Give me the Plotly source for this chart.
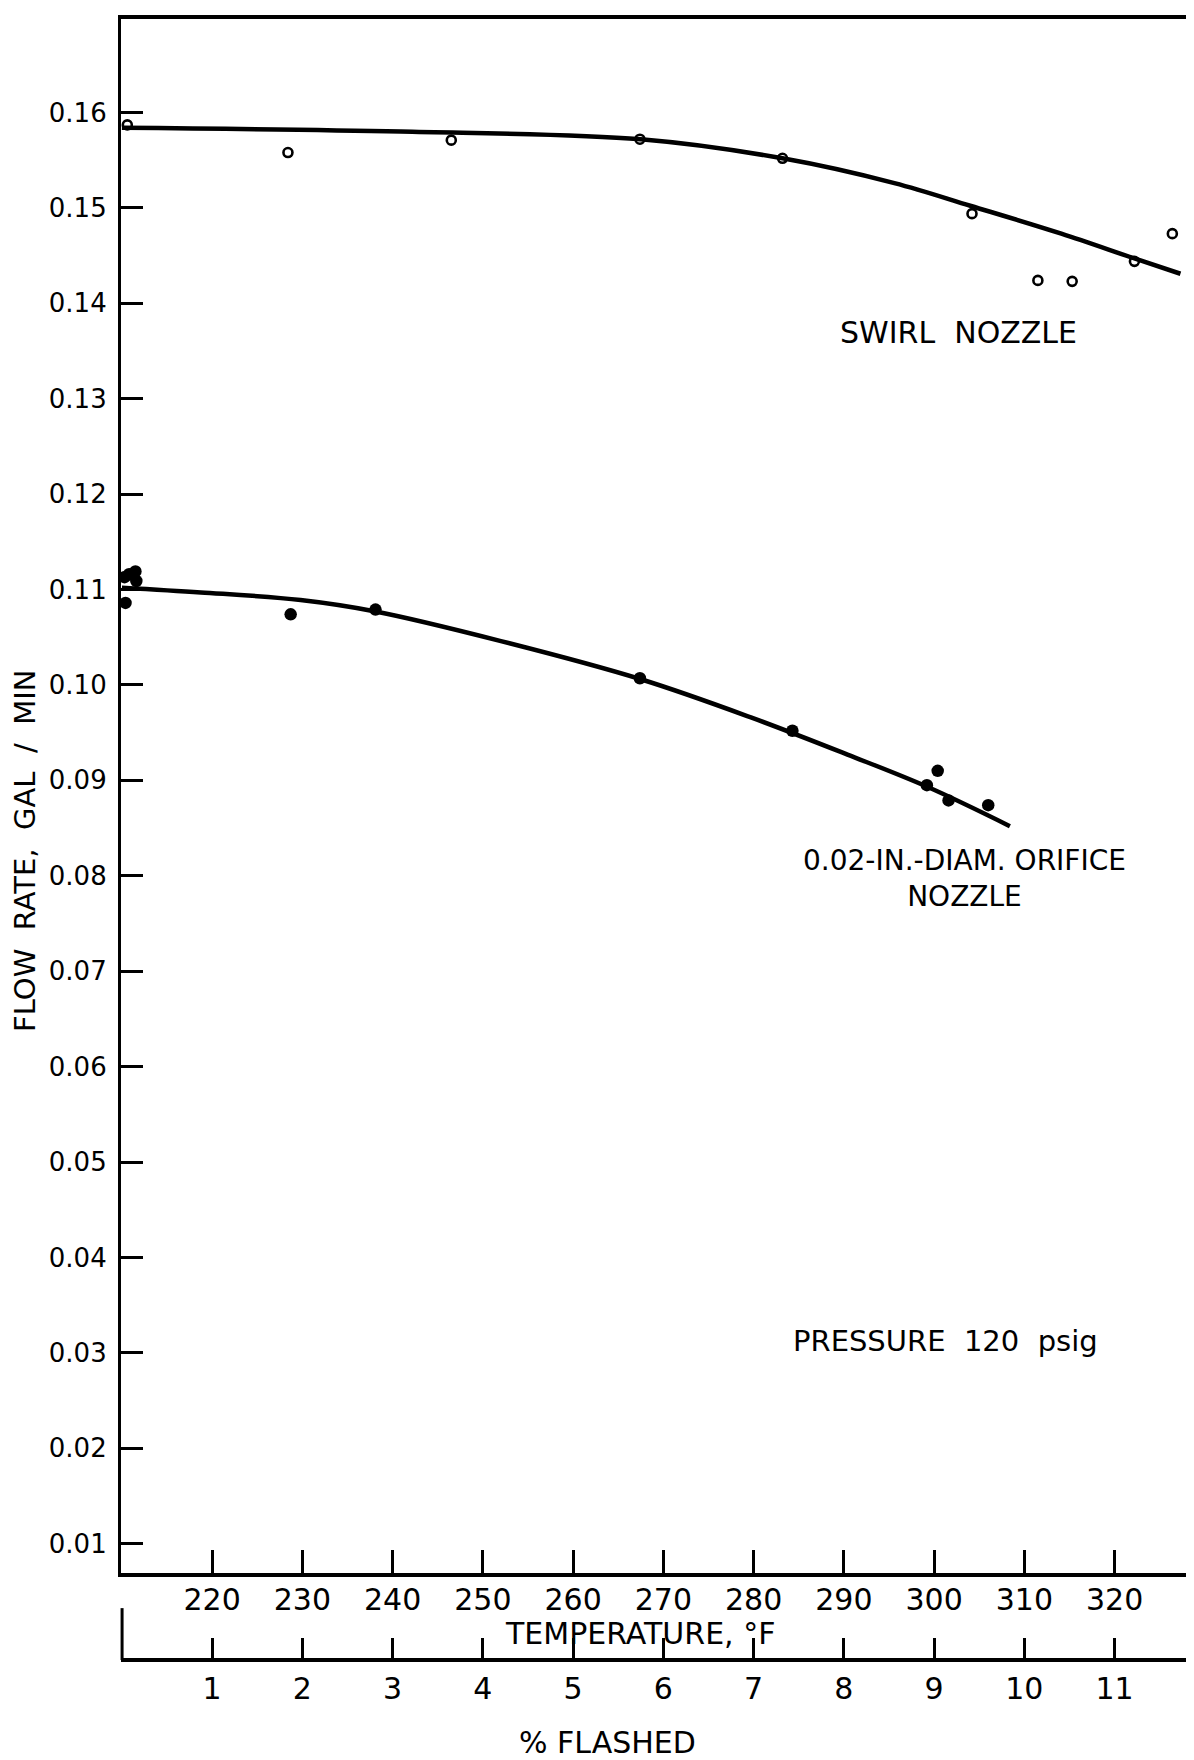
import plotly.graph_objects as go

# ---------------- data ----------------
# x values are "% FLASHED"; the temperature scale shares the same tick positions
pct_tick_pos = [1, 2, 3, 4, 5, 6, 7, 8, 9, 10, 11]
pct_tick_labels = ["1", "2", "3", "4", "5", "6", "7", "8", "9", "10", "11"]
temp_tick_labels = ["220", "230", "240", "250", "260", "270", "280", "290", "300", "310", "320"]

y_tick_vals = [0.01, 0.02, 0.03, 0.04, 0.05, 0.06, 0.07, 0.08,
               0.09, 0.10, 0.11, 0.12, 0.13, 0.14, 0.15, 0.16]
y_tick_labels = ["0.01", "0.02", "0.03", "0.04", "0.05", "0.06", "0.07", "0.08",
                 "0.09", "0.10", "0.11", "0.12", "0.13", "0.14", "0.15", "0.16"]

swirl_x = [0.06, 1.84, 3.65, 5.74, 7.32, 9.42, 10.15, 10.53, 11.22, 11.64]
swirl_y = [0.1587, 0.1558, 0.1571, 0.1572, 0.1552, 0.1494, 0.1424, 0.1423, 0.1444, 0.1473]
swirl_fit_x = [0.0, 3.09, 5.75, 7.32, 8.56, 9.41, 10.41, 11.22, 11.73]
swirl_fit_y = [0.1584, 0.1580, 0.1572, 0.1552, 0.1526, 0.1502, 0.1473, 0.1447, 0.1431]

orifice_x = [0.03, 0.08, 0.15, 0.16, 0.04, 1.87, 2.81, 5.74, 7.43, 8.92, 9.04, 9.16, 9.60]
orifice_y = [0.1113, 0.1116, 0.1119, 0.1109, 0.1086, 0.1074, 0.1079, 0.1007, 0.0952,
             0.0895, 0.0910, 0.0879, 0.0874]
orifice_fit_x = [0.0, 0.875, 1.98, 2.81, 4.20, 5.75, 6.97, 8.04, 8.93, 9.84]
orifice_fit_y = [0.1102, 0.1097, 0.1089, 0.1077, 0.1046, 0.1006, 0.0966, 0.0927, 0.0893, 0.0852]

FONT = "DejaVu Sans"
INK = "black"

fig = go.Figure()

fig.add_trace(go.Scatter(x=swirl_fit_x, y=swirl_fit_y, mode="lines",
                         line=dict(color=INK, width=4.5, shape="spline", smoothing=1.0),
                         showlegend=False, hoverinfo="skip"))
fig.add_trace(go.Scatter(x=orifice_fit_x, y=orifice_fit_y, mode="lines",
                         line=dict(color=INK, width=4.5, shape="spline", smoothing=1.0),
                         showlegend=False, hoverinfo="skip"))
fig.add_trace(go.Scatter(x=swirl_x, y=swirl_y, mode="markers", name="Swirl nozzle",
                         marker=dict(symbol="circle-open", size=9, color=INK,
                                     line=dict(width=2.6, color=INK)),
                         showlegend=False))
fig.add_trace(go.Scatter(x=orifice_x, y=orifice_y, mode="markers", name="Orifice nozzle",
                         marker=dict(symbol="circle", size=12.5, color=INK),
                         showlegend=False))
# empty trace so the second (% flashed) scale is drawn
fig.add_trace(go.Scatter(x=[], y=[], xaxis="x2", yaxis="y", showlegend=False, hoverinfo="skip"))

XR = [-0.01, 11.88]

fig.update_layout(
    width=1194, height=1760,
    margin=dict(l=113, r=8, t=7, b=108),
    paper_bgcolor="white", plot_bgcolor="white",
    font=dict(family=FONT, color=INK),
    showlegend=False,
    xaxis=dict(
        range=XR, domain=[0, 1], anchor="y",
        tickmode="array", tickvals=pct_tick_pos, ticktext=temp_tick_labels,
        ticks="inside", ticklen=23, tickwidth=2.5, tickcolor=INK,
        showline=True, linewidth=3.5, linecolor=INK, mirror=True,
        showgrid=False, zeroline=False,
        tickfont=dict(size=30, family=FONT, color=INK),
        ticklabelstandoff=-3,
    ),
    xaxis2=dict(
        range=XR, overlaying="x", anchor="free", position=0, side="bottom",
        tickmode="array", tickvals=pct_tick_pos, ticktext=pct_tick_labels,
        ticks="inside", ticklen=20, tickwidth=2.5, tickcolor=INK,
        showline=True, linewidth=3.5, linecolor=INK,
        showgrid=False, zeroline=False,
        tickfont=dict(size=30, family=FONT, color=INK),
        ticklabelstandoff=1,
    ),
    yaxis=dict(
        range=[0.0069, 0.1698], domain=[87 / 1645, 1], anchor="x",
        tickmode="array", tickvals=y_tick_vals, ticktext=y_tick_labels,
        ticks="inside", ticklen=22, tickwidth=3, tickcolor=INK,
        showline=True, linewidth=3.2, linecolor=INK,
        showgrid=False, zeroline=False,
        tickfont=dict(size=26, family=FONT, color=INK),
        ticklabelstandoff=6,
    ),
)

# short vertical end mark at the left of the % flashed scale
fig.add_shape(type="line", xref="paper", yref="paper",
              x0=0.001, x1=0.001, y0=0, y1=52 / 1645,
              line=dict(color=INK, width=3))

ann = []
ann.append(dict(text="FLOW  RATE,  GAL  /  MIN", xref="paper", yref="paper",
                x=(25 - 121) / 1073, y=(1660 - 849) / 1645, textangle=-90,
                showarrow=False, xanchor="center", yanchor="middle",
                font=dict(size=29, family=FONT, color=INK)))
ann.append(dict(text="TEMPERATURE, °F", xref="paper", yref="paper",
                x=(640 - 121) / 1073, y=(1660 - 1633) / 1645,
                showarrow=False, xanchor="center", yanchor="middle",
                font=dict(size=30, family=FONT, color=INK)))
ann.append(dict(text="% FLASHED", xref="paper", yref="paper",
                x=(607 - 121) / 1073, y=(1660 - 1743) / 1645,
                showarrow=False, xanchor="center", yanchor="middle",
                font=dict(size=30, family=FONT, color=INK)))
ann.append(dict(text="SWIRL  NOZZLE", xref="x", yref="y", x=9.27, y=0.1369,
                showarrow=False, xanchor="center", yanchor="middle",
                font=dict(size=30, family=FONT, color=INK)))
ann.append(dict(text="0.02-IN.-DIAM. ORIFICE<br>NOZZLE", xref="x", yref="y",
                x=9.34, y=0.0797, align="center",
                showarrow=False, xanchor="center", yanchor="middle",
                font=dict(size=28, family=FONT, color=INK)))
ann.append(dict(text="PRESSURE  120  psig", xref="x", yref="y", x=9.13, y=0.03123,
                showarrow=False, xanchor="center", yanchor="middle",
                font=dict(size=29, family=FONT, color=INK)))
fig.update_layout(annotations=ann)

fig.write_html("out.html", config={"displayModeBar": False})
